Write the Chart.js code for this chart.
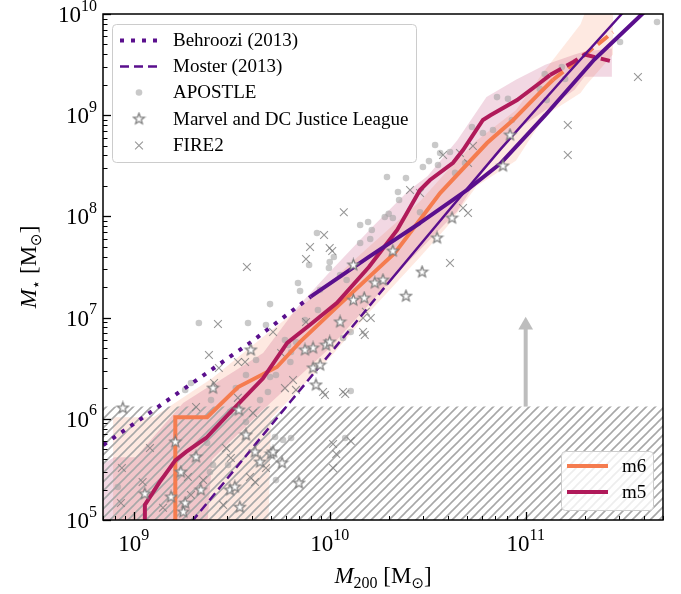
<!DOCTYPE html>
<html><head><meta charset="utf-8">
<script src="https://cdn.jsdelivr.net/npm/chart.js@4.4.1/dist/chart.umd.min.js"></script>
<style>html,body{margin:0;padding:0;background:#fff;}canvas{display:block;}</style>
</head><body>
<canvas id="c" width="681" height="594"></canvas>
<script>
// ---------------- DATA ----------------
const xRange = [6.97e8, 5.02e11];
const yRange = [1e5, 1e10];
const xTickExps = [9, 10, 11];
const yTickExps = [5, 6, 7, 8, 9, 10];
const detectionLimit = 1.32e6;
const arrowX = 1e11;
const arrowTop = 8.4e6;

const behrooziExtrapX = [7.0e8, 1.76e9, 3.98e9, 8.0e9];
const behrooziExtrapY = [5.51e5, 1.91e6, 5.75e6, 1.61e7];
const behrooziX = [8.0e9, 1.585e10, 2.89e10, 5.01e10, 7.41e10, 1.259e11, 2.24e11, 3.93e11, 4.47e11];
const behrooziY = [1.61e7, 3.98e7, 8.61e7, 1.82e8, 3.31e8, 1.0e9, 3.55e9, 1.0e10, 1.26e10];

const mosterExtrapX = [1.78e9, 6.31e9, 1.96e10];
const mosterExtrapY = [7.5e4, 1.48e6, 2.12e7];
const mosterX = [1.96e10, 3.98e10, 7.41e10, 1.585e11, 3.09e11, 3.55e11];
const mosterY = [2.12e7, 1.10e8, 4.57e8, 2.40e9, 1.0e10, 1.32e10];

const m6X = [1.63e9, 1.63e9, 2.37e9, 3.41e9, 5.38e9, 7.06e9, 1.11e10, 2.15e10, 3.66e10, 6.35e10, 8.63e10, 1.18e11, 1.38e11, 2.79e11];
const m6Y = [9.0e4, 1.035e6, 1.035e6, 2.06e6, 3.25e6, 5.75e6, 1.32e7, 4.35e7, 1.70e8, 5.31e8, 8.97e8, 1.66e9, 2.24e9, 6.61e9];
const m6DashFrom = 1.38e11;

const m5X = [1.14e9, 1.14e9, 1.35e9, 1.63e9, 1.85e9, 2.34e9, 3.03e9, 3.63e9, 4.57e9, 6.07e9, 7.94e9, 1.09e10, 1.585e10, 2.21e10, 2.89e10, 3.25e10, 4.26e10, 4.79e10, 6.05e10, 6.61e10, 9.04e10, 1.18e11, 1.33e11, 1.75e11, 2.0e11, 2.69e11];
const m5Y = [9.0e4, 1.41e5, 2.34e5, 3.89e5, 4.70e5, 6.46e5, 1.10e6, 1.585e6, 2.51e6, 5.62e6, 8.51e6, 1.40e7, 3.16e7, 7.35e7, 1.82e8, 2.29e8, 3.39e8, 4.53e8, 8.97e8, 1.0e9, 1.41e9, 2.08e9, 2.49e9, 3.36e9, 3.98e9, 3.44e9];
const m5DashFrom = 1.33e11;

const m6BandX = [7.85e8, 1.259e9, 2.512e9, 4.853e9, 5.012e9, 7.079e9, 1e10, 1.585e10, 2.891e10, 3.981e10, 5.623e10, 8.913e10, 1.259e11, 1.585e11, 1.905e11, 2.042e11, 2.793e11];
const m6BandHi = [1.035e6, 1.035e6, 2.51e6, 7.08e6, 7.41e6, 1.26e7, 2.24e7, 5.01e7, 1.41e8, 2.82e8, 5.62e8, 1.12e9, 2.82e9, 5.01e9, 7.94e9, 1.12e10, 1.12e10];
const m6BandLo = [6.3e4, 6.3e4, 6.3e4, 6.3e4, 1.0e6, 2.0e6, 3.98e6, 1.12e7, 3.98e7, 7.94e7, 2.0e8, 3.55e8, 1.0e9, 1.32e9, 1.66e9, 2.0e9, 3.98e9];

const m5BandX = [6.31e8, 7.94e8, 1.023e9, 1.786e9, 2.344e9, 2.512e9, 4.571e9, 6.823e9, 1e10, 1.66e10, 2.512e10, 3.162e10, 4.467e10, 6.31e10, 8.913e10, 1.259e11, 1.778e11, 1.995e11, 2.754e11];
const m5BandHi = [3.16e5, 4.17e5, 4.17e5, 1.43e6, 2.0e6, 2.14e6, 4.47e6, 1.26e7, 2.82e7, 7.94e7, 1.78e8, 2.51e8, 5.62e8, 1.51e9, 2.24e9, 3.16e9, 3.98e9, 4.27e9, 4.57e9];
const m5BandLo = [6.3e4, 6.3e4, 6.3e4, 6.3e4, 6.3e4, 3.98e5, 1.23e6, 2.51e6, 5.01e6, 1.48e7, 3.55e7, 5.62e7, 1.12e8, 3.16e8, 7.08e8, 1.12e9, 1.78e9, 2.40e9, 2.40e9];

const apostleX = [4.68e11, 3.03e11, 1.25e11, 1.59e11, 1.53e11, 1.18e11, 1.28e11, 8.12e10, 7.14e10, 8.51e10, 5.32e10, 6.05e10, 6.81e10, 3.45e10, 3.66e10, 4.11e10, 2.99e10, 3.21e10, 3.57e10, 4.90e10, 4.36e10, 1.96e10, 2.45e10, 2.23e10, 2.26e10, 2.89e10, 1.43e10, 1.57e10, 1.64e10, 1.91e10, 2.00e10, 2.10e10, 8.61e9, 1.43e10, 1.61e10, 1.05e10, 7.85e9, 1.00e10, 9.91e9, 6.89e9, 7.06e9, 4.96e9, 1.13e10, 1.22e10, 2.15e9, 3.83e9, 4.73e9, 5.91e9, 6.13e9, 6.73e9, 1.17e10, 1.28e10, 4.21e9, 3.74e9, 1.96e9, 1.83e9, 3.32e9, 2.48e9, 4.41e9, 3.10e9, 5.32e9, 4.96e9, 4.84e9, 6.35e9, 1.28e10, 2.54e9, 2.45e9, 3.03e9, 3.74e9, 5.26e9, 5.78e9, 6.35e9, 1.20e10, 5.32e9, 8.3e8, 2.37e9, 8.93e9, 7.48e9, 8.71e9, 6.3e9];
const apostleY = [8.34e9, 5.29e9, 2.55e9, 2.28e9, 2.99e9, 1.82e9, 1.41e9, 1.45e9, 1.51e9, 8.97e8, 7.64e8, 6.67e8, 7.14e8, 5.08e8, 4.23e8, 4.33e8, 3.08e8, 3.52e8, 3.22e8, 3.37e8, 2.69e8, 2.45e8, 2.39e8, 1.74e8, 1.45e8, 1.10e8, 8.22e7, 8.81e7, 7.35e7, 9.87e7, 1.06e8, 9.64e7, 6.86e7, 5.46e7, 5.98e7, 3.97e7, 3.31e7, 3.54e7, 3.09e7, 2.20e7, 1.83e7, 1.36e7, 2.64e7, 2.35e7, 8.85e6, 8.85e6, 8.45e6, 6.01e6, 5.36e6, 5.74e6, 6.28e6, 7.21e6, 3.81e6, 2.71e6, 2.26e6, 1.93e6, 2.01e6, 1.53e6, 1.53e6, 1.17e6, 2.71e6, 2.59e6, 1.84e6, 4.57e6, 1.88e6, 3.49e5, 2.98e5, 3.49e5, 9.29e5, 6.61e5, 6.18e5, 6.46e5, 6.46e5, 2.48e5, 2.12e5, 5.77e5, 1.88e7, 9.47e6, 1.19e7, 3.64e6];

const fireX = [3.74e11, 1.64e11, 1.64e11, 3.79e10, 4.62e10, 5.38e10, 5.08e10, 2.57e10, 2.89e10, 1.18e10, 4.79e10, 5.08e10, 4.11e10, 9.36e9, 7.94e9, 1.00e10, 1.03e10, 7.57e9, 3.78e9, 7.57e9, 1.48e10, 1.62e10, 1.53e10, 1.48e10, 1.51e10, 5.14e9, 5.65e9, 9.25e9, 9.46e9, 1.17e10, 1.20e10, 6.50e9, 5.91e9, 6.73e9, 2.69e9, 2.42e9, 3.40e9, 3.70e9, 2.72e9, 2.57e9, 2.08e9, 3.40e9, 4.06e9, 1.04e10, 1.04e10, 1.28e10, 1.08e10, 4.73e9, 8.7e8, 1.21e9, 8.6e8, 1.96e9, 2.96e9, 3.13e9, 3.92e9, 4.16e9, 2.86e9, 1.89e9, 2.26e9, 1.11e9, 1.41e9];
const fireY = [2.38e9, 8.00e8, 4.05e8, 4.05e8, 4.23e8, 4.97e8, 3.37e8, 1.82e8, 1.70e8, 1.10e8, 1.21e8, 1.08e8, 3.46e7, 6.55e7, 4.99e7, 4.88e7, 4.55e7, 3.79e7, 3.16e7, 9.05e6, 9.91e6, 9.91e6, 1.14e7, 7.21e6, 6.73e6, 7.21e6, 4.47e6, 1.84e6, 1.72e6, 1.84e6, 1.76e6, 2.42e6, 2.01e6, 1.93e6, 8.65e6, 4.27e6, 3.64e6, 3.64e6, 3.18e6, 2.26e6, 1.31e6, 1.61e6, 1.14e6, 5.64e5, 3.27e5, 6.04e5, 4.49e5, 3.27e5, 3.27e5, 5.14e5, 1.47e5, 1.77e5, 5.14e5, 4.10e5, 2.66e5, 2.37e5, 1.41e5, 2.66e5, 2.48e5, 2.37e5, 1.32e5];

const marvelX = [8.32e10, 7.66e10, 4.21e10, 3.53e10, 2.96e10, 2.45e10, 2.10e10, 1.32e10, 1.87e10, 1.50e10, 1.70e10, 1.32e10, 1.13e10, 8.22e9, 7.48e9, 9.57e9, 1.00e10, 8.22e9, 8.93e9, 8.51e9, 3.96e9, 2.54e9, 3.44e9, 8.8e8, 1.63e9, 2.08e9, 1.74e9, 2.20e9, 1.55e9, 1.14e9, 1.83e9, 1.79e9, 3.10e9, 3.28e9, 3.48e9, 3.74e9, 4.16e9, 4.41e9, 6.97e9, 5.71e9, 5.01e9, 5.14e9];
const marvelY = [6.37e8, 3.15e8, 9.64e7, 6.12e7, 2.82e7, 1.63e7, 4.55e7, 3.31e7, 2.35e7, 1.56e7, 2.20e7, 1.49e7, 9.05e6, 5.01e6, 4.79e6, 5.36e6, 5.74e6, 3.18e6, 3.40e6, 2.16e6, 4.79e6, 2.01e6, 1.22e6, 1.28e6, 5.90e5, 4.20e5, 2.98e5, 1.98e5, 1.69e5, 1.81e5, 1.47e5, 1.20e5, 1.98e5, 2.12e5, 1.34e5, 6.92e5, 4.70e5, 3.74e5, 2.32e5, 3.66e5, 4.49e5, 4.70e5];

const topLegendLabels = ['Behroozi (2013)', 'Moster (2013)', 'APOSTLE', 'Marvel and DC Justice League', 'FIRE2'];
const simLegendLabels = ['m6', 'm5'];

// ---------------- STYLE ----------------
const C_PURPLE = '#5a0f8d';
const C_M5 = '#b01a5a';
const C_M6 = '#f57c4f';
const C_DOT = 'rgba(165,165,165,0.6)';
const C_X = 'rgba(125,125,125,0.8)';
const C_STAR = '#7a7a7a';
const SERIF = '"Liberation Serif", "DejaVu Serif", serif';

const pts = (xs, ys) => xs.map((x, i) => ({x, y: ys[i]}));

const cv = document.getElementById('c');
const ctx0 = cv.getContext('2d');

function makeStar(size, R, r) {
  const c = document.createElement('canvas'); c.width = size; c.height = size;
  const g = c.getContext('2d'); const cx = size / 2, cy = size / 2;
  g.beginPath();
  for (let i = 0; i < 10; i++) {
    const rad = i % 2 === 0 ? R : r; const a = -Math.PI / 2 + i * Math.PI / 5;
    const px = cx + rad * Math.cos(a), py = cy + rad * Math.sin(a);
    if (i) g.lineTo(px, py); else g.moveTo(px, py);
  }
  g.closePath(); g.fillStyle = '#fff'; g.fill();
  g.strokeStyle = C_STAR; g.lineWidth = 1.2; g.lineJoin = 'miter'; g.stroke();
  return c;
}
const starImg = makeStar(15, 5.8, 2.4);

function makeHatch() {
  const p = 9; const c = document.createElement('canvas'); c.width = p; c.height = p;
  const g = c.getContext('2d'); g.strokeStyle = '#a8a8a8'; g.lineWidth = 1.6;
  g.beginPath();
  g.moveTo(0, p); g.lineTo(p, 0);
  g.moveTo(-1, 1); g.lineTo(1, -1);
  g.moveTo(p - 1, p + 1); g.lineTo(p + 1, p - 1);
  g.stroke();
  return ctx0.createPattern(c, 'repeat');
}
const hatch = makeHatch();

const lineBase = {pointRadius: 0, fill: false, clip: 0, borderCapStyle: 'butt', borderJoinStyle: 'round'};

const datasets = [
  {label: 'm6 band hi', data: pts(m6BandX, m6BandHi), borderWidth: 0, pointRadius: 0, backgroundColor: 'rgba(247,125,78,0.17)', fill: '+1', order: 20},
  {label: 'm6 band lo', data: pts(m6BandX, m6BandLo), borderWidth: 0, pointRadius: 0, fill: false, order: 20},
  {label: 'm5 band hi', data: pts(m5BandX, m5BandHi), borderWidth: 0, pointRadius: 0, backgroundColor: 'rgba(176,26,90,0.17)', fill: '+1', order: 19},
  {label: 'm5 band lo', data: pts(m5BandX, m5BandLo), borderWidth: 0, pointRadius: 0, fill: false, order: 19},
  {label: 'hatch', data: [{x: xRange[0] * 0.8, y: detectionLimit}, {x: xRange[1] * 1.2, y: detectionLimit}], borderWidth: 0, pointRadius: 0, backgroundColor: hatch, fill: 'start', order: 18},
  {label: 'arrow', data: [{x: arrowX, y: detectionLimit}, {x: arrowX, y: arrowTop}], borderColor: '#bdbdbd', borderWidth: 4, borderCapStyle: 'butt', pointStyle: 'triangle', pointRadius: [0, 8.5], pointBackgroundColor: '#bdbdbd', pointBorderWidth: 0, fill: false, order: 17},
  {label: topLegendLabels[2], data: pts(apostleX, apostleY), showLine: false, pointStyle: 'circle', pointRadius: 3.3, pointBackgroundColor: C_DOT, pointBorderWidth: 0, order: 16},
  {label: topLegendLabels[4], data: pts(fireX, fireY), showLine: false, pointStyle: 'crossRot', pointRadius: 5.5, pointBorderColor: C_X, pointBorderWidth: 1.1, order: 15},
  Object.assign({}, lineBase, {label: simLegendLabels[0], data: pts(m6X, m6Y), borderColor: C_M6, borderWidth: 4, borderJoinStyle: 'miter', order: 12,
    segment: {borderDash: c => (c.p0.parsed.x >= m6DashFrom ? [13, 6] : undefined)}}),
  Object.assign({}, lineBase, {label: simLegendLabels[1], data: pts(m5X, m5Y), borderColor: C_M5, borderWidth: 4, borderJoinStyle: 'miter', order: 11,
    segment: {borderDash: c => (c.p0.parsed.x >= m5DashFrom ? [13, 6] : undefined)}}),
  Object.assign({}, lineBase, {label: topLegendLabels[1] + ' extrap', data: pts(mosterExtrapX, mosterExtrapY), borderColor: C_PURPLE, borderWidth: 2.5, borderDash: [9, 5], order: 10}),
  Object.assign({}, lineBase, {label: topLegendLabels[1], data: pts(mosterX, mosterY), borderColor: C_PURPLE, borderWidth: 2.5, order: 10}),
  Object.assign({}, lineBase, {label: topLegendLabels[0] + ' extrap', data: pts(behrooziExtrapX, behrooziExtrapY), borderColor: C_PURPLE, borderWidth: 4, borderDash: [4, 7], order: 9}),
  Object.assign({}, lineBase, {label: topLegendLabels[0], data: pts(behrooziX, behrooziY), borderColor: C_PURPLE, borderWidth: 4, order: 9}),
  {label: topLegendLabels[3], data: pts(marvelX, marvelY), showLine: false, pointStyle: starImg, pointRadius: 5, order: 5}
];

function drawParts(ctx, parts, x, y, align) {
  let total = 0;
  parts.forEach(p => { ctx.font = p.font; p.w = ctx.measureText(p.t).width; total += p.w; });
  let cx = align === 'center' ? x - total / 2 : (align === 'right' ? x - total : x);
  ctx.textAlign = 'left'; ctx.textBaseline = 'alphabetic';
  parts.forEach(p => { ctx.font = p.font; ctx.fillText(p.t, cx, y + (p.dy || 0)); cx += p.w; });
}

function pow10Label(exp) {
  return [{t: '10', font: '23px ' + SERIF}, {t: String(exp), font: '16px ' + SERIF, dy: -11.5}];
}

function drawCross(ctx, x, y, r, color, lw) {
  const d = r * Math.SQRT1_2;
  ctx.strokeStyle = color; ctx.lineWidth = lw; ctx.setLineDash([]);
  ctx.beginPath(); ctx.moveTo(x - d, y - d); ctx.lineTo(x + d, y + d); ctx.moveTo(x - d, y + d); ctx.lineTo(x + d, y - d); ctx.stroke();
}

function roundRect(ctx, x, y, w, h, r) {
  ctx.beginPath();
  ctx.moveTo(x + r, y); ctx.lineTo(x + w - r, y); ctx.quadraticCurveTo(x + w, y, x + w, y + r);
  ctx.lineTo(x + w, y + h - r); ctx.quadraticCurveTo(x + w, y + h, x + w - r, y + h);
  ctx.lineTo(x + r, y + h); ctx.quadraticCurveTo(x, y + h, x, y + h - r);
  ctx.lineTo(x, y + r); ctx.quadraticCurveTo(x, y, x + r, y); ctx.closePath();
}

const decor = {
  id: 'decor',
  afterDatasetsDraw(chart) {
    const ctx = chart.ctx, ca = chart.chartArea, xs = chart.scales.x, ys = chart.scales.y;
    ctx.save();
    // minor / major ticks (inward)
    const tickVals = (min, max) => {
      const out = [];
      for (let e = Math.floor(Math.log10(min)); e <= Math.ceil(Math.log10(max)); e++)
        for (let m = 1; m <= 9; m++) { const v = m * Math.pow(10, e); if (v >= min * 0.9999 && v <= max * 1.0001) out.push({v, major: m === 1}); }
      return out;
    };
    ctx.strokeStyle = '#000'; ctx.setLineDash([]);
    tickVals(xs.min, xs.max).forEach(t => {
      const px = Math.round(xs.getPixelForValue(t.v)) + 0.5;
      ctx.lineWidth = t.major ? 1.3 : 1; ctx.beginPath();
      ctx.moveTo(px, ca.bottom); ctx.lineTo(px, ca.bottom - (t.major ? 8 : 4)); ctx.stroke();
    });
    tickVals(ys.min, ys.max).forEach(t => {
      const py = Math.round(ys.getPixelForValue(t.v)) + 0.5;
      ctx.lineWidth = t.major ? 1.3 : 1; ctx.beginPath();
      ctx.moveTo(ca.left, py); ctx.lineTo(ca.left + (t.major ? 8 : 4.5), py); ctx.stroke();
    });
    // frame
    ctx.lineWidth = 1.5; ctx.strokeRect(ca.left, ca.top, ca.right - ca.left, ca.bottom - ca.top);
    // tick labels
    ctx.fillStyle = '#000';
    xTickExps.forEach(e => drawParts(ctx, pow10Label(e), xs.getPixelForValue(Math.pow(10, e)), 551, 'center'));
    yTickExps.forEach(e => drawParts(ctx, pow10Label(e), 97, ys.getPixelForValue(Math.pow(10, e)) + 8, 'right'));
    // axis titles
    const big = '23px ' + SERIF, bigI = 'italic 23px ' + SERIF, sm = '16px ' + SERIF, smS = '15px "DejaVu Sans", sans-serif';
    drawParts(ctx, [{t: 'M', font: bigI}, {t: '200', font: sm, dy: 5}, {t: ' [M', font: big}, {t: '\u2299', font: smS, dy: 5}, {t: ']', font: big}], (ca.left + ca.right) / 2, 583, 'center');
    ctx.save();
    ctx.translate(36, (ca.top + ca.bottom) / 2); ctx.rotate(-Math.PI / 2);
    drawParts(ctx, [{t: 'M', font: bigI}, {t: '\u22c6', font: smS, dy: 5}, {t: ' [M', font: big}, {t: '\u2299', font: smS, dy: 5}, {t: ']', font: big}], 0, 0, 'center');
    ctx.restore();

    // upper-left legend
    roundRect(ctx, 112.5, 24.5, 304, 138, 4);
    ctx.fillStyle = 'rgba(255,255,255,0.8)'; ctx.fill();
    ctx.strokeStyle = '#cccccc'; ctx.lineWidth = 1; ctx.stroke();
    const rows = [40.5, 66.5, 92.5, 119, 145.5];
    ctx.lineCap = 'butt';
    ctx.strokeStyle = C_PURPLE; ctx.lineWidth = 4; ctx.setLineDash([4, 7]);
    ctx.beginPath(); ctx.moveTo(120, rows[0]); ctx.lineTo(158, rows[0]); ctx.stroke();
    ctx.lineWidth = 2.5; ctx.setLineDash([9, 5]);
    ctx.beginPath(); ctx.moveTo(120, rows[1]); ctx.lineTo(158, rows[1]); ctx.stroke();
    ctx.setLineDash([]);
    ctx.fillStyle = C_DOT; ctx.beginPath(); ctx.arc(139, rows[2], 3.3, 0, Math.PI * 2); ctx.fill();
    ctx.drawImage(starImg, 139 - starImg.width / 2, rows[3] - starImg.height / 2);
    drawCross(ctx, 139, rows[4], 5.5, C_X, 1.1);
    ctx.fillStyle = '#000'; ctx.font = '19px ' + SERIF; ctx.textAlign = 'left'; ctx.textBaseline = 'middle';
    topLegendLabels.forEach((l, i) => ctx.fillText(l, 173, rows[i] + 1));

    // lower-right legend
    roundRect(ctx, 561.5, 451.5, 92, 59, 4);
    ctx.fillStyle = 'rgba(255,255,255,0.8)'; ctx.fill();
    ctx.strokeStyle = '#cccccc'; ctx.lineWidth = 1; ctx.stroke();
    const srows = [466, 492];
    [C_M6, C_M5].forEach((c, i) => {
      ctx.strokeStyle = c; ctx.lineWidth = 4; ctx.beginPath(); ctx.moveTo(567, srows[i]); ctx.lineTo(608, srows[i]); ctx.stroke();
    });
    ctx.fillStyle = '#000'; ctx.font = '19px ' + SERIF; ctx.textBaseline = 'middle';
    simLegendLabels.forEach((l, i) => ctx.fillText(l, 622, srows[i] + 1));
    ctx.restore();
  }
};

new Chart(cv, {
  type: 'line',
  data: {datasets},
  options: {
    responsive: false, animation: false, devicePixelRatio: 1, events: [],
    layout: {padding: {top: 14, right: 18, left: 0, bottom: 0}},
    plugins: {legend: {display: false}, tooltip: {enabled: false}},
    scales: {
      x: {type: 'logarithmic', min: xRange[0], max: xRange[1], bounds: 'data',
          ticks: {display: false}, grid: {display: false, drawTicks: false}, border: {display: false},
          afterFit: s => { s.height = 74; }},
      y: {type: 'logarithmic', min: yRange[0], max: yRange[1], bounds: 'data',
          ticks: {display: false}, grid: {display: false, drawTicks: false}, border: {display: false},
          afterFit: s => { s.width = 103; }}
    }
  },
  plugins: [decor]
});
</script>
</body></html>
